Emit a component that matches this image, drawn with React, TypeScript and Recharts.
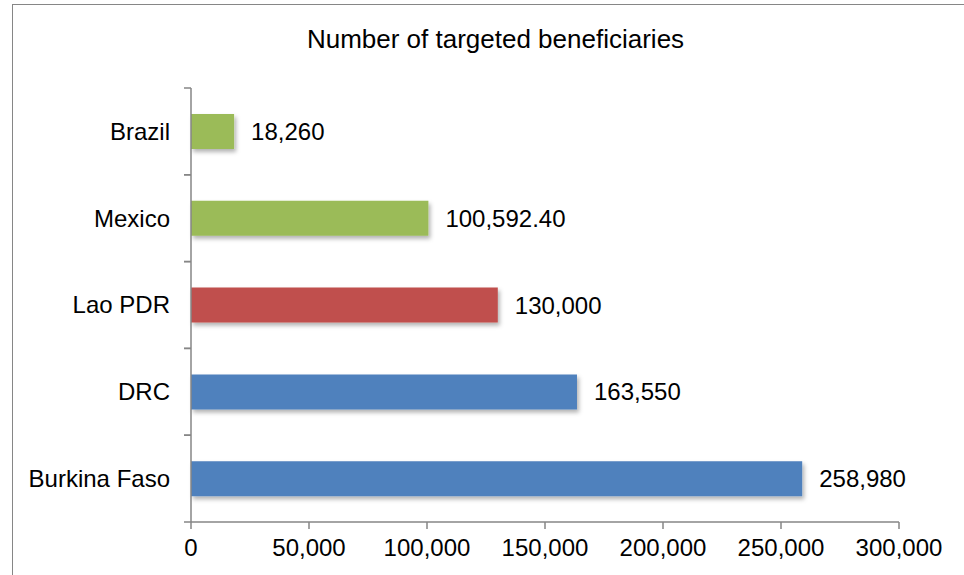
import { BarChart, Bar, XAxis, YAxis, Cell, LabelList } from 'recharts';

const countries = ['Brazil', 'Mexico', 'Lao PDR', 'DRC', 'Burkina Faso'];
const beneficiaries = [18260, 100592.4, 130000, 163550, 258980];
const barColors = ['#9bbb59', '#9bbb59', '#c0504d', '#4f81bd', '#4f81bd'];
const xTicks = [0, 50000, 100000, 150000, 200000, 250000, 300000];

const data = countries.map((name, i) => ({ name, value: beneficiaries[i] }));

const AXIS = '#868686';
const FONT = 'Arial, "Liberation Sans", sans-serif';

const fmt = (v: number) =>
  Number.isInteger(v)
    ? v.toLocaleString('en-US')
    : v.toLocaleString('en-US', { minimumFractionDigits: 2, maximumFractionDigits: 2 });

const CategoryTick = (props: any) => {
  const { x, y, payload } = props;
  const half = payload?.offset ?? 43;
  return (
    <g>
      <line x1={x + 14} x2={x + 21} y1={y - half} y2={y - half} stroke={AXIS} strokeWidth={1.5} />
      <line x1={x + 14} x2={x + 21} y1={y + half} y2={y + half} stroke={AXIS} strokeWidth={1.5} />
      <text x={x} y={y} dy="0.35em" textAnchor="end" fontSize={24} fill="#000" fontFamily={FONT}>
        {payload.value}
      </text>
    </g>
  );
};

export default function App() {
  return (
    <div style={{ position: 'absolute', left: 0, top: 0, width: 964, height: 575, overflow: 'hidden', background: '#fff' }}>
      <div
        style={{
          position: 'absolute', left: 12, top: 4, width: 1200, height: 1200,
          borderLeft: `1.5px solid ${AXIS}`, borderTop: `1.5px solid ${AXIS}`,
        }}
      />
      <div
        style={{
          position: 'absolute', left: 0, top: 24, width: 991, textAlign: 'center',
          fontFamily: FONT, fontSize: 26, color: '#000', whiteSpace: 'nowrap',
        }}
      >
        Number of targeted beneficiaries
      </div>
      <div style={{ position: 'absolute', left: 0, top: 0 }}>
        <BarChart
          width={964}
          height={575}
          data={data}
          layout="vertical"
          margin={{ top: 88, right: 65, bottom: 0, left: 0 }}
          barCategoryGap="60%"
        >
          <defs>
            <filter id="barShadow" x="-10%" y="-20%" width="130%" height="160%">
              <feDropShadow dx="2" dy="3" stdDeviation="2" floodColor="#000" floodOpacity="0.3" />
            </filter>
          </defs>
          <XAxis
            type="number"
            domain={[0, 300000]}
            ticks={xTicks}
            tickFormatter={(v: number) => v.toLocaleString('en-US')}
            axisLine={{ stroke: AXIS, strokeWidth: 1.5 }}
            tickLine={{ stroke: AXIS, strokeWidth: 1.5 }}
            tickSize={7}
            tickMargin={10}
            height={53}
            tick={{ fontSize: 24, fill: '#000', fontFamily: FONT }}
            interval={0}
          />
          <YAxis
            type="category"
            dataKey="name"
            width={191}
            axisLine={{ stroke: AXIS, strokeWidth: 1.5 }}
            tickLine={false}
            tickSize={0}
            tickMargin={21}
            tick={<CategoryTick />}
            interval={0}
          />
          <Bar dataKey="value" barSize={35} isAnimationActive={false} filter="url(#barShadow)">
            {data.map((_, i) => (
              <Cell key={i} fill={barColors[i]} />
            ))}
            <LabelList
              dataKey="value"
              position="right"
              offset={17}
              formatter={(v: any) => fmt(Number(v))}
              style={{ fontSize: 24, fill: '#000', fontFamily: FONT }}
            />
          </Bar>
        </BarChart>
      </div>
    </div>
  );
}
